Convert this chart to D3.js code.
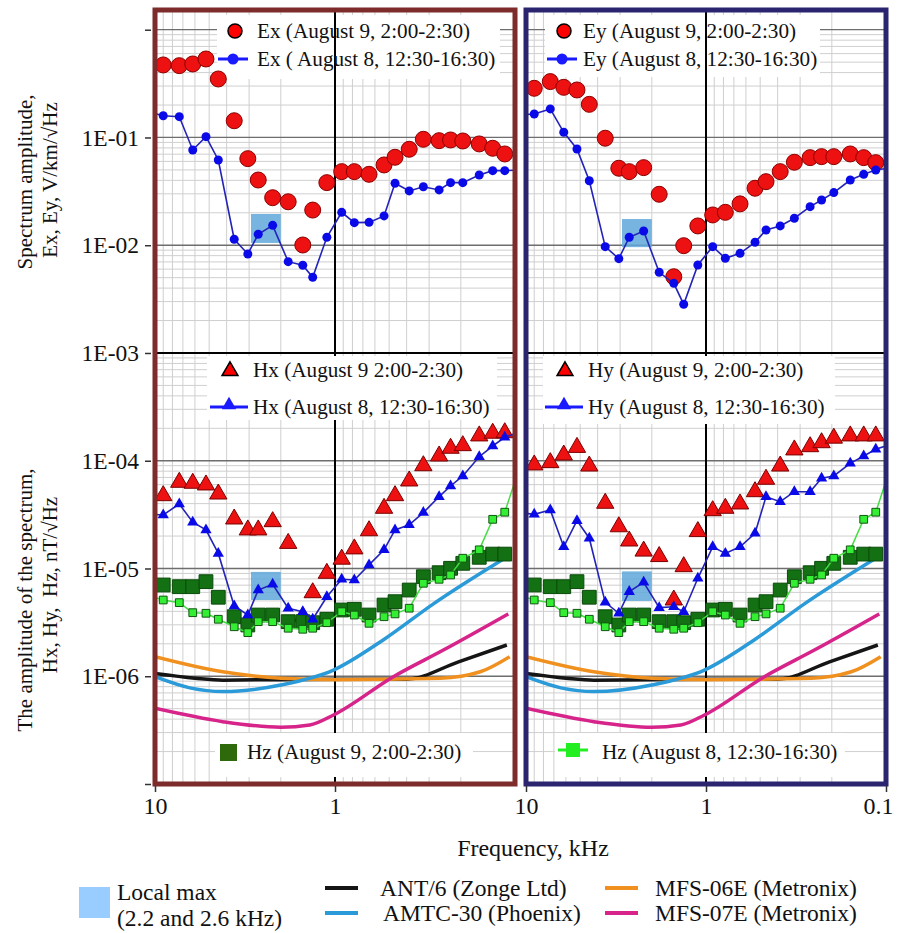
<!DOCTYPE html>
<html>
<head>
<meta charset="utf-8">
<script src="https://cdn.jsdelivr.net/npm/d3@7"></script>
<style>
  body { margin: 0; background: #fff; }
  text { font-family: "Liberation Serif", "Times New Roman", serif; fill: #111; }
</style>
</head>
<body>
<svg id="chart" width="898" height="933"></svg>
<script>
// frequencies, kHz (first and last lie just outside the axis, lines only)
const freq = [10.8, 9.0, 7.33, 6.17, 5.21, 4.45, 3.63, 3.05, 2.67, 2.22, 1.82, 1.51, 1.33, 1.11,
  0.918, 0.781, 0.647, 0.534, 0.464, 0.387, 0.323, 0.264, 0.228, 0.195, 0.158, 0.133, 0.114, 0.09];

// electric field, V/km/sqrt(Hz)
const exAug9 = [null, 0.471, 0.464, 0.481, 0.535, 0.349, 0.143, 0.0636, 0.0403, 0.0276, 0.0253, 0.01005, 0.0212, 0.0381,
  0.0482, 0.0482, 0.0455, 0.0556, 0.0655, 0.0777, 0.0962, 0.0934, 0.0948, 0.0928, 0.0871, 0.0794, 0.0703, null];
const exAug8 = [0.172, 0.159, 0.156, 0.0766, 0.1017, 0.0618, 0.01136, 0.0083, 0.01264, 0.0153, 0.00704, 0.00652, 0.00504, 0.01186,
  0.0202, 0.0162, 0.0163, 0.0187, 0.0376, 0.0319, 0.0349, 0.0326, 0.0381, 0.0381, 0.0449, 0.0492, 0.0492, 0.05];
const eyAug9 = [null, 0.286, 0.330, 0.292, 0.276, 0.203, 0.0984, 0.0518, 0.0482, 0.0525, 0.0297, 0.0051, 0.0099, 0.0151,
  0.0191, 0.0202, 0.0242, 0.0338, 0.0389, 0.0482, 0.0589, 0.065, 0.0664, 0.0664, 0.0703, 0.065, 0.0584, null];
const eyAug8 = [0.162, 0.165, 0.184, 0.1117, 0.0782, 0.0397, 0.0097, 0.0075, 0.01186, 0.01356, 0.00561, 0.00443, 0.00283, 0.00656,
  0.0097, 0.00757, 0.00841, 0.01065, 0.01386, 0.0151, 0.0178, 0.0228, 0.0263, 0.0308, 0.0403, 0.0455, 0.0499, 0.053];

// magnetic field, nT/sqrt(Hz)
const hxAug9 = [null, 4.74e-5, 6.31e-5, 6.18e-5, 5.96e-5, 4.91e-5, 2.88e-5, 2.28e-5, 2.28e-5, 2.72e-5, 1.71e-5, 3.57e-6, 5.96e-6, 9.02e-6,
  1.22e-5, 1.52e-5, 2.24e-5, 3.62e-5, 4.74e-5, 6.49e-5, 8.99e-5, 1.107e-4, 1.305e-4, 1.38e-4, 1.70e-4, 1.80e-4, 1.82e-4, null];
const hxAug8 = [3.2e-5, 3.14e-5, 3.97e-5, 2.69e-5, 2.28e-5, 1.38e-5, 4.49e-6, 3.70e-6, 6.31e-6, 7.13e-6, 4.28e-6, 3.97e-6, 3.38e-6, 5.47e-6,
  7.94e-6, 7.82e-6, 1.08e-5, 1.49e-5, 2.28e-5, 2.54e-5, 3.30e-5, 4.64e-5, 5.83e-5, 7.22e-5, 1.09e-4, 1.37e-4, 1.65e-4, 1.9e-4];
const hyAug9 = [null, 9.14e-5, 9.6e-5, 1.13e-4, 1.33e-4, 8.93e-5, 4.03e-5, 2.44e-5, 1.80e-5, 1.45e-5, 1.29e-5, 5.10e-6, 1.04e-5, 2.20e-5,
  3.44e-5, 3.62e-5, 3.97e-5, 5.16e-5, 6.73e-5, 8.93e-5, 1.26e-4, 1.35e-4, 1.47e-4, 1.62e-4, 1.70e-4, 1.70e-4, 1.70e-4, null];
const hyAug8 = [3.3e-5, 3.18e-5, 3.49e-5, 1.59e-5, 2.78e-5, 1.91e-5, 4.85e-6, 3.84e-6, 6.10e-6, 7.45e-6, 4.33e-6, 4.42e-6, 3.97e-6, 8.11e-6,
  1.59e-5, 1.38e-5, 1.59e-5, 2.12e-5, 4.64e-5, 4.17e-5, 5.16e-5, 5.16e-5, 6.87e-5, 7.22e-5, 9.46e-5, 1.107e-4, 1.28e-4, 1.45e-4];
const hzAug9 = [null, 7.03e-6, 6.78e-6, 6.78e-6, 7.55e-6, 5.41e-6, 3.57e-6, 2.99e-6, 3.70e-6, 3.70e-6, 3.21e-6, 3.21e-6, 3.14e-6, 3.38e-6,
  4.12e-6, 4.18e-6, 3.70e-6, 4.58e-6, 4.92e-6, 6.31e-6, 8.39e-6, 9.14e-6, 1.004e-5, 1.117e-5, 1.27e-5, 1.36e-5, 1.36e-5, null];
const hzAug8 = [5.6e-6, 5.10e-6, 4.82e-6, 3.89e-6, 3.84e-6, 3.38e-6, 2.88e-6, 2.54e-6, 3.21e-6, 3.21e-6, 2.79e-6, 2.73e-6, 2.79e-6, 3.14e-6,
  3.97e-6, 3.70e-6, 3.10e-6, 3.57e-6, 3.79e-6, 4.28e-6, 7.29e-6, 7.94e-6, 8.71e-6, 1.245e-5, 1.49e-5, 2.86e-5, 3.33e-5, 1.1e-4];

// sensor noise curves, nT/sqrt(Hz)
const ant6F = [10, 6, 4.2, 1, 0.4, 0.206, 0.111];
const ant6V = [1.06e-6, 9.6e-7, 9.2e-7, 9.4e-7, 9.4e-7, 1.36e-6, 1.95e-6];
const amtcF = [10, 6.4, 4.2, 2.0, 1.02, 0.54, 0.284, 0.114];
const amtcV = [9.9e-7, 7.8e-7, 7.2e-7, 8.3e-7, 1.14e-6, 2.17e-6, 4.7e-6, 1.245e-5];
const mfs06F = [10, 4.2, 2.0, 1, 0.26, 0.156, 0.107];
const mfs06V = [1.52e-6, 1.10e-6, 9.6e-7, 9.3e-7, 9.6e-7, 1.1e-6, 1.52e-6];
const mfs07F = [10, 4.2, 2.0, 1.38, 1.02, 0.474, 0.25, 0.109];
const mfs07V = [5.04e-7, 3.79e-7, 3.36e-7, 3.53e-7, 4.37e-7, 9.9e-7, 1.75e-6, 3.79e-6];

// local maximum boxes (kHz range, E range, H range) for left / right panel
const localMaxF = [2.0, 2.93];
const localMaxE = [[0.0105, 0.0195], [0.0096, 0.0175]];
const localMaxH = [[5.1e-6, 9.3e-6], [5.0e-6, 9.4e-6]];

const yTicks = [1, 1e-1, 1e-2, 1e-3, 1e-4, 1e-5, 1e-6, 1e-7];
const yLabels = ['', '1E-01', '1E-02', '1E-03', '1E-04', '1E-05', '1E-06', ''];

const svg = d3.select('#chart');
const fs = 21.2;
const font = '"Liberation Serif", "Times New Roman", serif';

const y = d3.scaleLog().domain([1e-7, Math.pow(10, 0.183)]).range([784, 10]);

const panels = [
  { x0: 155, x1: 515, frame: '#7d2b2b', ticks: [10, 1], e9: exAug9, e8: exAug8, h9: hxAug9, h8: hxAug8,
    eName: 'Ex', hName: 'Hx', i: 0 },
  { x0: 526, x1: 886, frame: '#2b2570', ticks: [10, 1, 0.1], e9: eyAug9, e8: eyAug8, h9: hyAug9, h8: hyAug8,
    eName: 'Ey', hName: 'Hy', i: 1 }
];

const minorX = d3.range(2, 10).flatMap(k => [k, k / 10]);
const minorY = d3.range(-7, 1).flatMap(e => d3.range(2, 10).map(k => k * Math.pow(10, e)))
  .filter(v => v < y.domain()[1]);
const majorY = [1, 1e-1, 1e-2, 1e-4, 1e-5, 1e-6];

const pts = (vals) => freq.map((f, i) => ({ f: f, v: vals[i] }));

panels.forEach(p => {
  const x = d3.scaleLog().domain([10, 0.1]).range([p.x0, p.x1]);
  const top = y.range()[1], bot = y.range()[0];

  svg.append('clipPath').attr('id', 'clip' + p.i)
    .append('rect').attr('x', p.x0).attr('y', top).attr('width', p.x1 - p.x0).attr('height', bot - top);

  const g = svg.append('g').attr('clip-path', 'url(#clip' + p.i + ')');

  g.selectAll('.mx').data(minorX).join('line')
    .attr('x1', d => x(d)).attr('x2', d => x(d)).attr('y1', top).attr('y2', bot)
    .attr('stroke', '#cfcfcf').attr('stroke-width', 1);
  g.selectAll('.my').data(minorY).join('line')
    .attr('x1', p.x0).attr('x2', p.x1).attr('y1', d => y(d)).attr('y2', d => y(d))
    .attr('stroke', '#cfcfcf').attr('stroke-width', 1);
  g.selectAll('.My').data(majorY).join('line')
    .attr('x1', p.x0).attr('x2', p.x1).attr('y1', d => y(d)).attr('y2', d => y(d))
    .attr('stroke', '#6e6e6e').attr('stroke-width', 1.3);

  // 1 kHz line, lower half (hidden behind the legend boxes)
  g.append('line').attr('x1', x(1)).attr('x2', x(1)).attr('y1', y(1e-3)).attr('y2', bot)
    .attr('stroke', '#000').attr('stroke-width', 2);

  // white legend boxes
  const boxes = p.i === 0
    ? [[217, 15, 283, 64], [207, 356, 290, 64], [215, 733, 258, 44]]
    : [[545, 15, 275, 62], [543, 356, 292, 68], [555, 733, 290, 44]];
  boxes.forEach(b => g.append('rect').attr('x', b[0]).attr('y', b[1]).attr('width', b[2]).attr('height', b[3]).attr('fill', '#fff'));

  g.append('line').attr('x1', x(1)).attr('x2', x(1)).attr('y1', top).attr('y2', y(1e-3))
    .attr('stroke', '#000').attr('stroke-width', 2);
  g.append('line').attr('x1', p.x0).attr('x2', p.x1).attr('y1', y(1e-3)).attr('y2', y(1e-3))
    .attr('stroke', '#000').attr('stroke-width', 2);

  // local max boxes
  [localMaxE[p.i], localMaxH[p.i]].forEach(r => {
    g.append('rect')
      .attr('x', x(localMaxF[1])).attr('width', x(localMaxF[0]) - x(localMaxF[1]))
      .attr('y', y(r[1])).attr('height', y(r[0]) - y(r[1]))
      .attr('fill', '#5fa8da').attr('opacity', 0.85);
  });

  // sensor noise curves
  const curve = d3.line().x(d => x(d[0])).y(d => y(d[1])).curve(d3.curveMonotoneX);
  [[ant6F, ant6V, '#151515'], [mfs06F, mfs06V, '#f0901e'], [amtcF, amtcV, '#2a9ad8'], [mfs07F, mfs07V, '#d6248a']]
    .forEach(c => {
      g.append('path').datum(d3.zip(c[0], c[1])).attr('d', curve)
        .attr('fill', 'none').attr('stroke', c[2]).attr('stroke-width', 3.5);
    });

  const line = d3.line().defined(d => d.v != null).x(d => x(d.f)).y(d => y(d.v));
  const inside = (vals) => pts(vals).filter(d => d.v != null && d.f <= 10 && d.f >= 0.1);
  const sym = (type, size) => d3.symbol().type(type).size(size)();

  // Hx / Hy August 9 (red triangles)
  g.selectAll(null).data(inside(p.h9)).join('path')
    .attr('transform', d => `translate(${x(d.f)},${y(d.v)})`)
    .attr('d', sym(d3.symbolTriangle, 130))
    .attr('fill', '#ee1111').attr('stroke', '#7a0000').attr('stroke-width', 1);

  // Hz August 9 (dark green squares)
  g.selectAll(null).data(inside(hzAug9)).join('path')
    .attr('transform', d => `translate(${x(d.f)},${y(d.v)})`)
    .attr('d', sym(d3.symbolSquare, 190))
    .attr('fill', '#137013').attr('stroke', '#0b4a0b').attr('stroke-width', 1);

  // Hz August 8 (light green)
  g.append('path').datum(pts(hzAug8)).attr('d', line)
    .attr('fill', 'none').attr('stroke', '#44dd44').attr('stroke-width', 1.5);
  g.selectAll(null).data(inside(hzAug8)).join('path')
    .attr('transform', d => `translate(${x(d.f)},${y(d.v)})`)
    .attr('d', sym(d3.symbolSquare, 60))
    .attr('fill', '#33ee33').attr('stroke', '#125512').attr('stroke-width', 1);

  // Hx / Hy August 8 (blue triangles)
  g.append('path').datum(pts(p.h8)).attr('d', line)
    .attr('fill', 'none').attr('stroke', '#2323b8').attr('stroke-width', 1.6);
  g.selectAll(null).data(inside(p.h8)).join('path')
    .attr('transform', d => `translate(${x(d.f)},${y(d.v)})`)
    .attr('d', sym(d3.symbolTriangle, 55))
    .attr('fill', '#0a0ae8');

  // Ex / Ey August 9 (red circles)
  g.selectAll(null).data(inside(p.e9)).join('circle')
    .attr('cx', d => x(d.f)).attr('cy', d => y(d.v)).attr('r', 8)
    .attr('fill', '#ee1111').attr('stroke', '#8b0000').attr('stroke-width', 1);

  // Ex / Ey August 8 (blue dots)
  g.append('path').datum(pts(p.e8)).attr('d', line)
    .attr('fill', 'none').attr('stroke', '#2323b8').attr('stroke-width', 1.6);
  g.selectAll(null).data(inside(p.e8)).join('circle')
    .attr('cx', d => x(d.f)).attr('cy', d => y(d.v)).attr('r', 4.5)
    .attr('fill', '#0a0ae8');

  // in-panel legends
  const L = svg.append('g');
  const E = [[235, 257], [564, 583]][p.i];
  const H = [[230, 253], [565, 588]][p.i];
  L.append('circle').attr('cx', E[0]).attr('cy', 31).attr('r', 7).attr('fill', '#ff0000').attr('stroke', '#000').attr('stroke-width', 1.5);
  L.append('text').attr('x', E[1]).attr('y', 38).attr('font-size', fs).text(`${p.eName} (August 9, 2:00-2:30)`);
  L.append('line').attr('x1', E[0] - 17).attr('x2', E[0] + 13).attr('y1', 59).attr('y2', 59).attr('stroke', '#1a1aff').attr('stroke-width', 3);
  L.append('circle').attr('cx', E[0] - 2).attr('cy', 59).attr('r', 5.5).attr('fill', '#1a1aff');
  L.append('text').attr('x', E[1]).attr('y', 66).attr('font-size', fs)
    .text(p.i === 0 ? 'Ex ( August 8, 12:30-16:30)' : 'Ey (August 8, 12:30-16:30)');

  L.append('path').attr('transform', `translate(${H[0]},371)`).attr('d', sym(d3.symbolTriangle, 110))
    .attr('fill', '#ff0000').attr('stroke', '#000').attr('stroke-width', 1.5);
  L.append('text').attr('x', H[1]).attr('y', 377).attr('font-size', fs)
    .text(p.i === 0 ? 'Hx (August 9 2:00-2:30)' : 'Hy (August 9, 2:00-2:30)');
  L.append('line').attr('x1', H[0] - 20).attr('x2', H[0] + 18).attr('y1', 407).attr('y2', 407).attr('stroke', '#1a1aff').attr('stroke-width', 3);
  L.append('path').attr('transform', `translate(${H[0] - 1},405)`).attr('d', sym(d3.symbolTriangle, 90)).attr('fill', '#1a1aff');
  L.append('text').attr('x', H[1]).attr('y', 414).attr('font-size', fs).text(`${p.hName} (August 8, 12:30-16:30)`);

  if (p.i === 0) {
    L.append('rect').attr('x', 220).attr('y', 744).attr('width', 17).attr('height', 17).attr('fill', '#2e6a0c');
    L.append('text').attr('x', 247).attr('y', 759).attr('font-size', fs).text('Hz (August 9, 2:00-2:30)');
  } else {
    L.append('line').attr('x1', 558).attr('x2', 588).attr('y1', 750).attr('y2', 750).attr('stroke', '#22ee22').attr('stroke-width', 3);
    L.append('rect').attr('x', 566).attr('y', 743).attr('width', 14).attr('height', 14).attr('fill', '#22ee22');
    L.append('text').attr('x', 602).attr('y', 759).attr('font-size', fs).text('Hz (August 8, 12:30-16:30)');
  }

  // frame
  svg.append('rect').attr('x', p.x0).attr('y', top).attr('width', p.x1 - p.x0).attr('height', bot - top)
    .attr('fill', 'none').attr('stroke', p.frame).attr('stroke-width', 5);

  // x axis
  const xAxis = d3.axisBottom(x).tickValues(p.ticks).tickFormat(d3.format('')).tickSize(6).tickPadding(5);
  const gx = svg.append('g').attr('transform', `translate(0,${bot + 2})`).call(xAxis);
  gx.select('.domain').remove();
  gx.selectAll('line').attr('stroke', '#333').attr('stroke-width', 1.5);
  gx.selectAll('text').attr('font-size', 24).attr('font-family', font).attr('fill', '#111')
    .attr('dx', d => d === 0.1 ? -8 : 0);
});

// y axis
const yAxis = d3.axisLeft(y).tickValues(yTicks).tickFormat((d, i) => yLabels[i]).tickSize(6).tickPadding(6);
const gy = svg.append('g').attr('transform', 'translate(151,0)').call(yAxis);
gy.select('.domain').remove();
gy.selectAll('line').attr('stroke', '#333').attr('stroke-width', 1.5);
gy.selectAll('text').attr('font-size', 23.5).attr('font-family', font).attr('fill', '#111');

// axis titles
svg.append('text').attr('x', 533).attr('y', 856).attr('text-anchor', 'middle').attr('font-size', 24).text('Frequency, kHz');
[['Spectrum amplitude,', 32, 182], ['Ex, Ey, V/km/\u221AHz', 57, 180],
 ['The amplitude of the spectrum,', 32, 600], ['Hx, Hy,  Hz, nT/\u221AHz', 57, 585]].forEach(t => {
  svg.append('text').attr('transform', `translate(${t[1]},${t[2]}) rotate(-90)`)
    .attr('text-anchor', 'middle').attr('font-size', 21).attr('xml:space', 'preserve').text(t[0]);
});

// bottom legend
const bl = svg.append('g');
const lfs = 23.5;
bl.append('rect').attr('x', 79).attr('y', 887).attr('width', 31).attr('height', 31).attr('fill', '#99ccff');
bl.append('text').attr('x', 117).attr('y', 900).attr('font-size', lfs).text('Local max');
bl.append('text').attr('x', 117).attr('y', 926).attr('font-size', lfs).text('(2.2 and 2.6 kHz)');
const legendItems = [
  { c: '#151515', x: 325, y: 888, t: 'ANT/6 (Zonge Ltd)', tx: 380 },
  { c: '#2a9ad8', x: 325, y: 913, t: 'AMTC-30 (Phoenix)', tx: 383 },
  { c: '#f0901e', x: 605, y: 888, t: 'MFS-06E (Metronix)', tx: 655 },
  { c: '#d6248a', x: 605, y: 913, t: 'MFS-07E (Metronix)', tx: 655 }
];
legendItems.forEach(d => {
  bl.append('line').attr('x1', d.x).attr('x2', d.x + 33).attr('y1', d.y).attr('y2', d.y).attr('stroke', d.c).attr('stroke-width', 4);
  bl.append('text').attr('x', d.tx).attr('y', d.y + 8).attr('font-size', lfs).text(d.t);
});
</script>
</body>
</html>
